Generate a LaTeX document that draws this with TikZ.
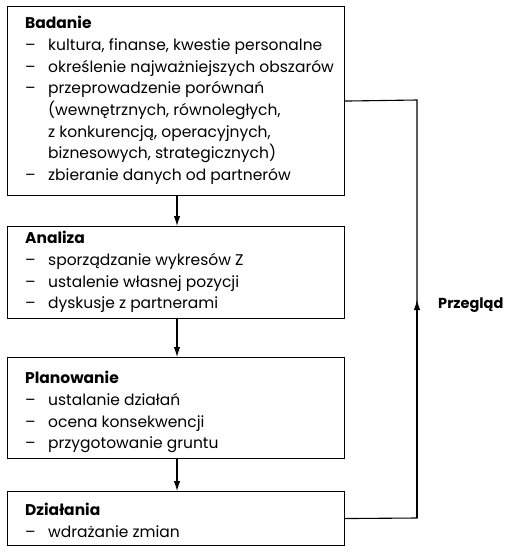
\documentclass[tikz,border=0pt]{standalone}
\usepackage{fontspec}
\setmainfont{Poppins}
\usetikzlibrary{arrows.meta}
\begin{document}
\begin{tikzpicture}[x=1pt,y=-1pt,
  box/.style={draw, line width=1.1pt, anchor=north west, inner sep=0pt},
  txt/.style={anchor=north west, inner sep=0pt, align=left, font=\fontsize{15.5}{21.7}\selectfont},
  flow/.style={line width=1.1pt, -{Latex[length=10pt,width=6.5pt]}},
  back/.style={line width=1.1pt}]
\useasboundingbox (0,0) rectangle (511,554);
\newcommand\itm{\makebox[23pt][l]{–}}
\newcommand\cnt{\hspace*{23pt}}
\node[box, minimum width=337pt, minimum height=189pt] (b1) at (7,6) {};
\node[box, minimum width=337pt, minimum height=92pt] (b2) at (7,226) {};
\node[box, minimum width=337pt, minimum height=101pt] (b3) at (7,357) {};
\node[box, minimum width=337pt, minimum height=54pt] (b4) at (7,491) {};
\node[txt] (t1) at (25,16) {\textbf{Badanie}\\
\itm kultura, finanse, kwestie personalne\\
\itm określenie najważniejszych obszarów\\
\itm przeprowadzenie porównań\\
\cnt (wewnętrznych, równoległych,\\
\cnt z konkurencją, operacyjnych,\\
\cnt biznesowych, strategicznych)\\
\itm zbieranie danych od partnerów};
\node[txt] (t2) at (25,231) {\textbf{Analiza}\\
\itm sporządzanie wykresów Z\\
\itm ustalenie własnej pozycji\\
\itm dyskusje z partnerami};
\node[txt] (t3) at (25,371) {\textbf{Planowanie}\\
\itm ustalanie działań\\
\itm ocena konsekwencji\\
\itm przygotowanie gruntu};
\node[txt] (t4) at (25,503) {\textbf{Działania}\\
\itm wdrażanie zmian};
\draw[flow] (b1.south -| 177,0) -- (b2.north -| 177,0);
\draw[flow] (b2.south -| 177,0) -- (b3.north -| 177,0);
\draw[flow] (b3.south -| 177,0) -- (b4.north -| 177,0);
\coordinate (r4) at (417,518);
\coordinate (ra) at (417,300);
\coordinate (r1) at (417,100);
\draw[back] (b4.east) -- (r4) -- (ra);
\draw[flow] (r4) -- (ra);
\draw[back] (ra) -- (r1) -- (b1.east);
\node[anchor=base west, inner sep=0pt, font=\fontsize{14.5}{17}\selectfont\bfseries] (pr) at (438,308) {Przegląd};
\end{tikzpicture}
\end{document}
